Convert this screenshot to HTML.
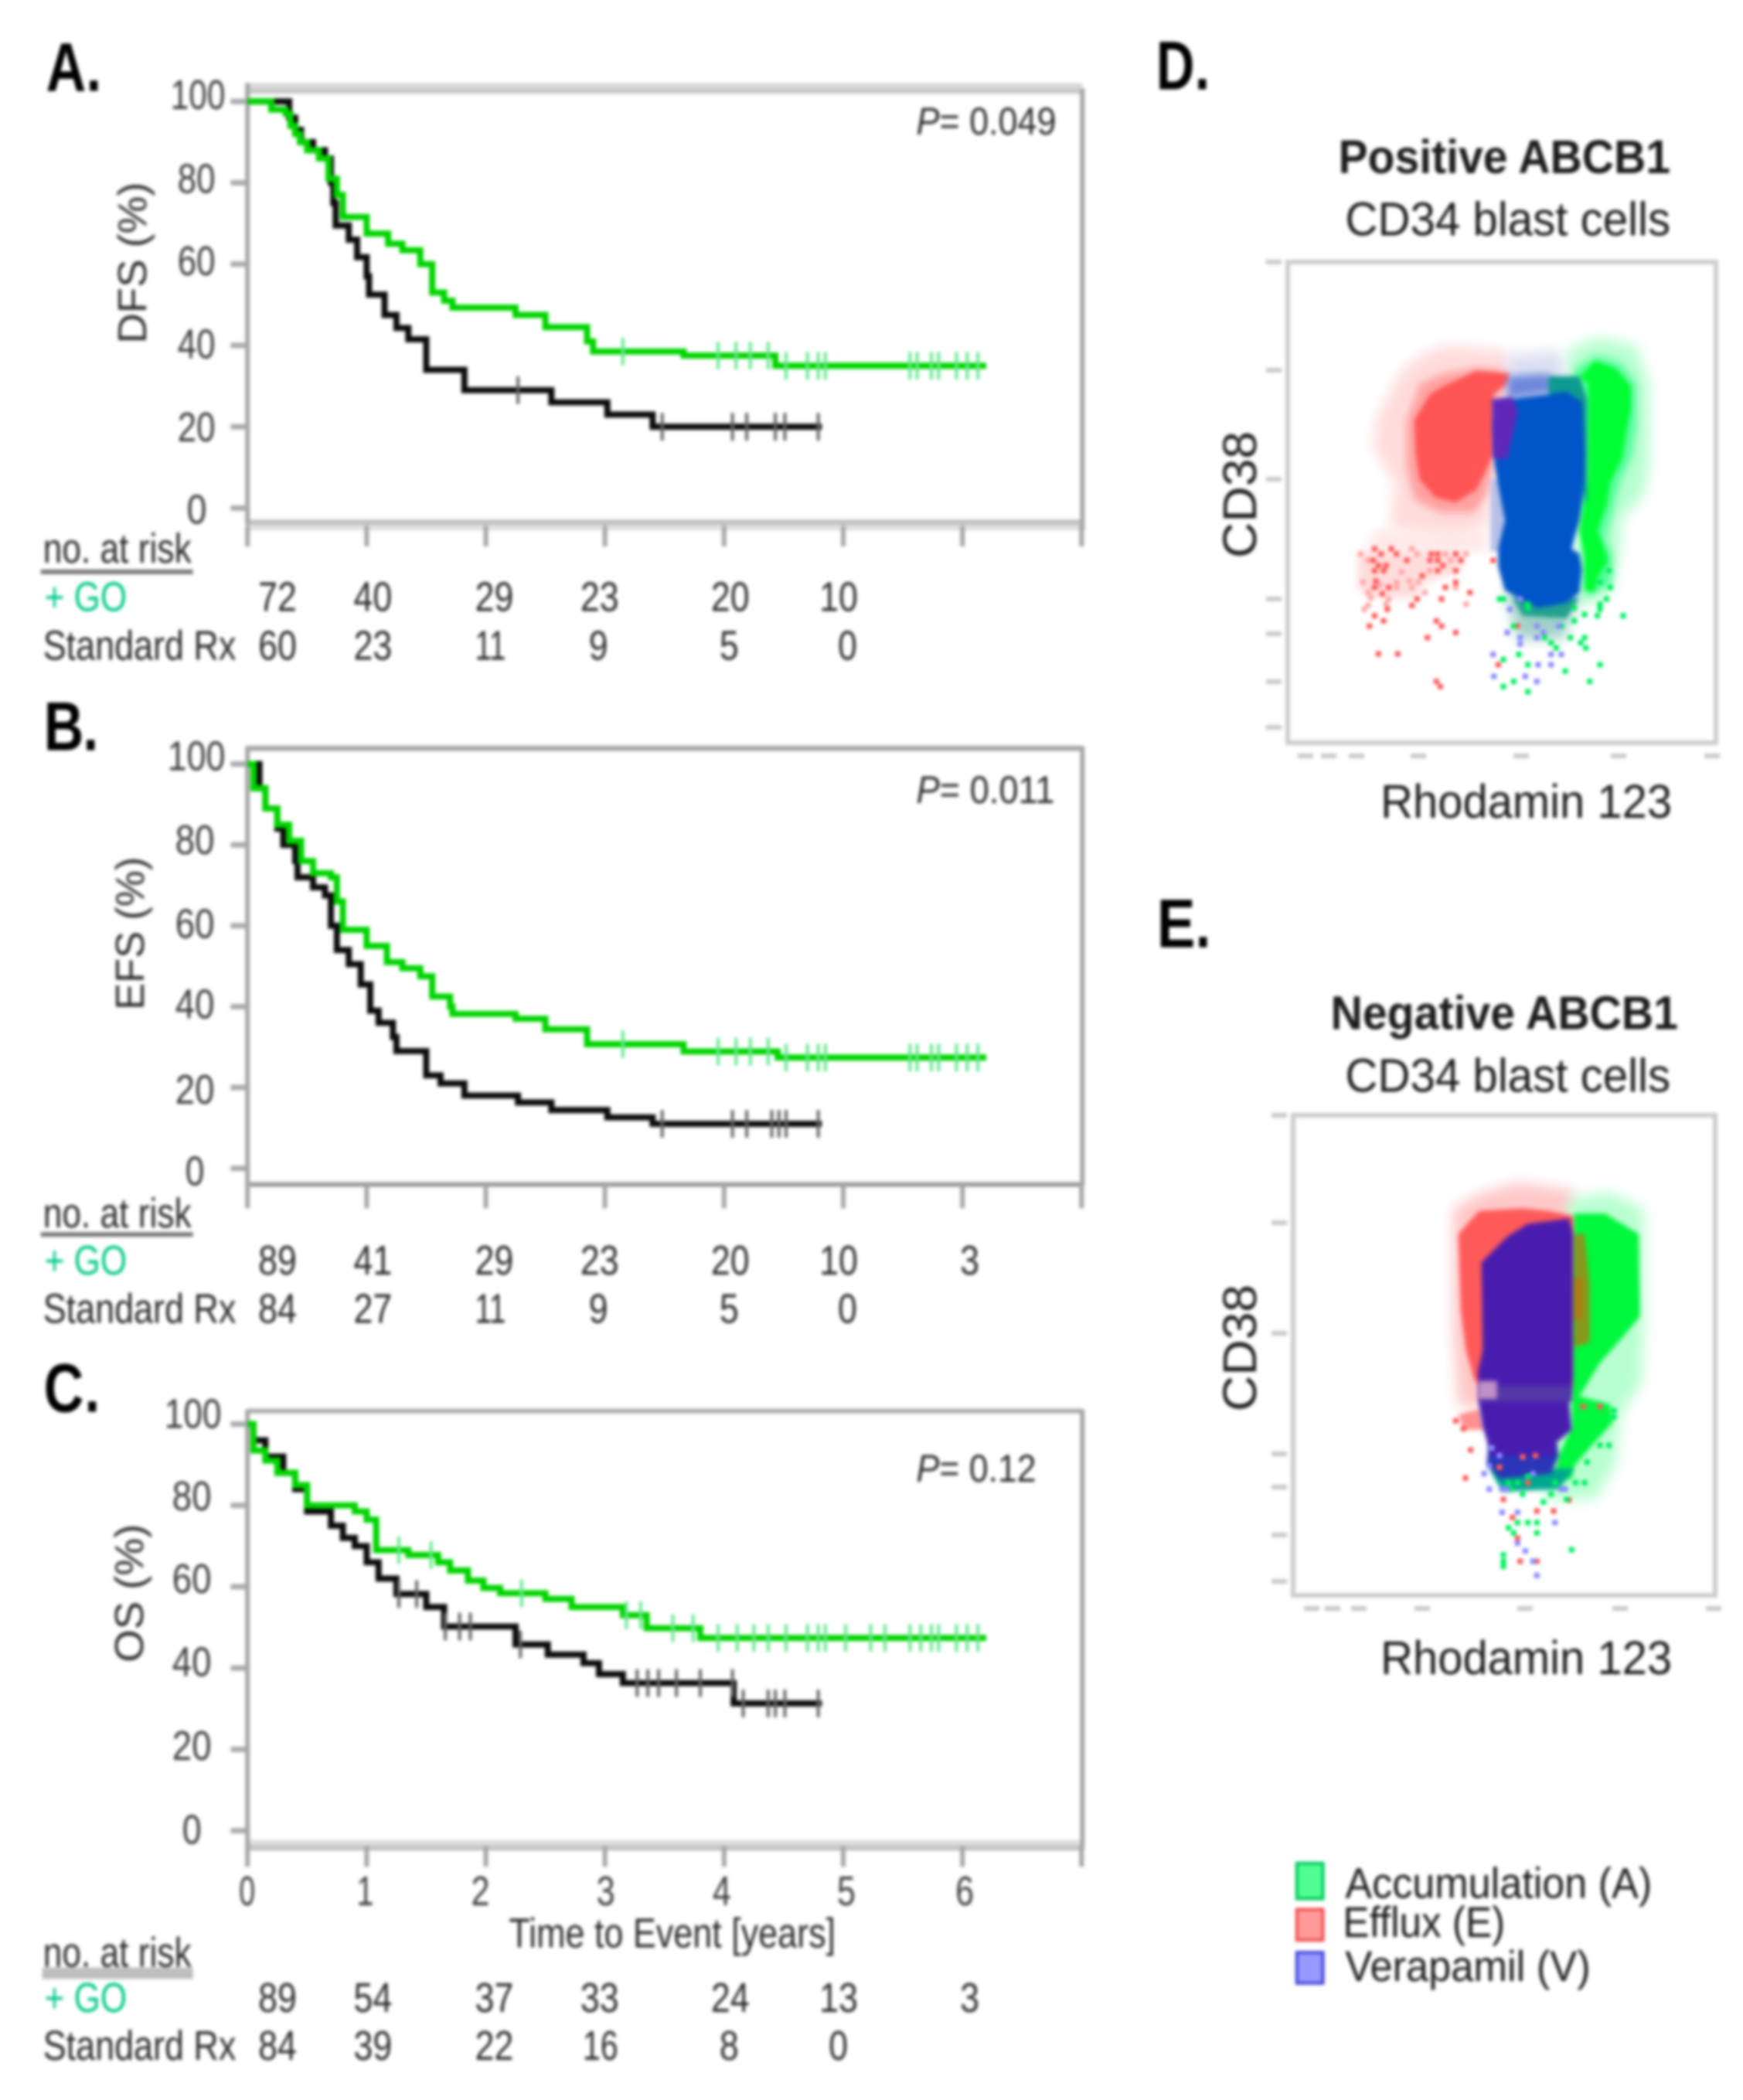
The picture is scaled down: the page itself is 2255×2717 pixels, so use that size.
<!DOCTYPE html>
<html lang="en">
<head>
<meta charset="utf-8">
<title>Kaplan-Meier survival curves and ABCB1 flow cytometry</title>
<style>
html,body{margin:0;padding:0;background:#fff;}
#figure{display:block;width:2255px;height:2717px;filter:blur(2px);}
text{font-family:"Liberation Sans",sans-serif;fill:#2c2c2c;}
.let{font-size:90px;font-weight:bold;fill:#000;}
.tick{font-size:54px;fill:#3c3c3c;}
.risk{font-size:54px;fill:#2c2c2c;}
.go{font-size:54px;fill:#00c888;}
.p{font-size:50px;fill:#2c2c2c;}
.ttl{font-size:52px;fill:#2c2c2c;}
.fc{font-size:62px;fill:#1c1c1c;}
</style>
</head>
<body>
<svg id="figure" xmlns="http://www.w3.org/2000/svg" width="2255" height="2717" viewBox="0 0 2255 2717">
<rect width="2255" height="2717" fill="#fff"/>
<defs>
<filter id="halo" x="-20%" y="-20%" width="140%" height="140%"><feGaussianBlur stdDeviation="8"/></filter>
<filter id="mid" x="-20%" y="-20%" width="140%" height="140%"><feGaussianBlur stdDeviation="5"/></filter>
<filter id="soft" x="-20%" y="-20%" width="140%" height="140%"><feGaussianBlur stdDeviation="2"/></filter>
</defs>

<g id="panelA" transform="scale(0.9945)">
<text class="let" x="60" y="118" textLength="52" lengthAdjust="spacingAndGlyphs">A</text>
<text class="let" x="112" y="118" textLength="20" lengthAdjust="spacingAndGlyphs">.</text>
<rect x="322" y="108" width="1086" height="7" fill="#d9d9d9"/>
<rect x="322" y="115" width="1086" height="7" fill="#c8c8c8"/>
<rect x="322" y="676" width="1086" height="7" fill="#c0c0c0"/>
<rect x="322" y="683" width="1086" height="7" fill="#e0e0e0"/>
<rect x="319" y="108" width="6" height="575" fill="#a6a6a6"/>
<rect x="1405" y="115" width="6" height="575" fill="#a6a6a6"/>
<text class="tick" x="222" y="142" textLength="71" lengthAdjust="spacingAndGlyphs">100</text>
<text class="tick" x="231" y="251" textLength="49" lengthAdjust="spacingAndGlyphs">80</text>
<text class="tick" x="231" y="358" textLength="49" lengthAdjust="spacingAndGlyphs">60</text>
<text class="tick" x="231" y="466" textLength="49" lengthAdjust="spacingAndGlyphs">40</text>
<text class="tick" x="231" y="574" textLength="49" lengthAdjust="spacingAndGlyphs">20</text>
<text class="tick" x="243" y="681" textLength="26" lengthAdjust="spacingAndGlyphs">0</text>
<text class="ttl" transform="translate(190,447) rotate(-90)" textLength="210" lengthAdjust="spacingAndGlyphs">DFS (%)</text>
<text class="p" x="1192" y="175" textLength="182" lengthAdjust="spacingAndGlyphs"><tspan font-style="italic">P</tspan>= 0.049</text>
<text class="risk" x="56" y="732" textLength="193" lengthAdjust="spacingAndGlyphs">no. at risk</text>
<rect x="53" y="741" width="198" height="6" fill="#777"/>
<text class="go" x="58" y="795" textLength="107" lengthAdjust="spacingAndGlyphs">+ GO</text>
<text class="risk" x="56" y="858" textLength="251" lengthAdjust="spacingAndGlyphs">Standard Rx</text>
<g>
<text class="risk" x="336" y="795" textLength="50" lengthAdjust="spacingAndGlyphs">72</text>
<text class="risk" x="460" y="795" textLength="50" lengthAdjust="spacingAndGlyphs">40</text>
<text class="risk" x="618" y="795" textLength="50" lengthAdjust="spacingAndGlyphs">29</text>
<text class="risk" x="755" y="795" textLength="50" lengthAdjust="spacingAndGlyphs">23</text>
<text class="risk" x="925" y="795" textLength="50" lengthAdjust="spacingAndGlyphs">20</text>
<text class="risk" x="1066" y="795" textLength="50" lengthAdjust="spacingAndGlyphs">10</text>
</g>
<g>
<text class="risk" x="336" y="858" textLength="50" lengthAdjust="spacingAndGlyphs">60</text>
<text class="risk" x="460" y="858" textLength="50" lengthAdjust="spacingAndGlyphs">23</text>
<text class="risk" x="618" y="858" textLength="40" lengthAdjust="spacingAndGlyphs">11</text>
<text class="risk" x="766" y="858" textLength="25" lengthAdjust="spacingAndGlyphs">9</text>
<text class="risk" x="936" y="858" textLength="25" lengthAdjust="spacingAndGlyphs">5</text>
<text class="risk" x="1090" y="858" textLength="25" lengthAdjust="spacingAndGlyphs">0</text>
</g>
</g>

<g id="panelB" transform="translate(0,4.95) scale(0.9945)">
<text class="let" x="57" y="971" textLength="52" lengthAdjust="spacingAndGlyphs">B</text>
<text class="let" x="108" y="971" textLength="20" lengthAdjust="spacingAndGlyphs">.</text>
<rect x="322" y="965" width="1086" height="7" fill="#aaa"/>
<rect x="322" y="1533" width="1086" height="6" fill="#999"/>
<rect x="319" y="966" width="6" height="572" fill="#a6a6a6"/>
<rect x="1405" y="966" width="6" height="572" fill="#a6a6a6"/>
<text class="tick" x="218" y="997" textLength="75" lengthAdjust="spacingAndGlyphs">100</text>
<text class="tick" x="228" y="1106" textLength="51" lengthAdjust="spacingAndGlyphs">80</text>
<text class="tick" x="228" y="1215" textLength="51" lengthAdjust="spacingAndGlyphs">60</text>
<text class="tick" x="228" y="1320" textLength="51" lengthAdjust="spacingAndGlyphs">40</text>
<text class="tick" x="228" y="1431" textLength="51" lengthAdjust="spacingAndGlyphs">20</text>
<text class="tick" x="241" y="1537" textLength="25" lengthAdjust="spacingAndGlyphs">0</text>
<text class="ttl" transform="translate(187,1309) rotate(-90)" textLength="199" lengthAdjust="spacingAndGlyphs">EFS (%)</text>
<text class="p" x="1192" y="1040" textLength="180" lengthAdjust="spacingAndGlyphs"><tspan font-style="italic">P</tspan>= 0.011</text>
<text class="risk" x="56" y="1592" textLength="193" lengthAdjust="spacingAndGlyphs">no. at risk</text>
<rect x="53" y="1598" width="198" height="6" fill="#777"/>
<text class="go" x="58" y="1653" textLength="107" lengthAdjust="spacingAndGlyphs">+ GO</text>
<text class="risk" x="56" y="1716" textLength="251" lengthAdjust="spacingAndGlyphs">Standard Rx</text>
<g>
<text class="risk" x="336" y="1653" textLength="50" lengthAdjust="spacingAndGlyphs">89</text>
<text class="risk" x="460" y="1653" textLength="50" lengthAdjust="spacingAndGlyphs">41</text>
<text class="risk" x="618" y="1653" textLength="50" lengthAdjust="spacingAndGlyphs">29</text>
<text class="risk" x="755" y="1653" textLength="50" lengthAdjust="spacingAndGlyphs">23</text>
<text class="risk" x="925" y="1653" textLength="50" lengthAdjust="spacingAndGlyphs">20</text>
<text class="risk" x="1066" y="1653" textLength="50" lengthAdjust="spacingAndGlyphs">10</text>
<text class="risk" x="1249" y="1653" textLength="25" lengthAdjust="spacingAndGlyphs">3</text>
</g>
<g>
<text class="risk" x="336" y="1716" textLength="50" lengthAdjust="spacingAndGlyphs">84</text>
<text class="risk" x="460" y="1716" textLength="50" lengthAdjust="spacingAndGlyphs">27</text>
<text class="risk" x="618" y="1716" textLength="40" lengthAdjust="spacingAndGlyphs">11</text>
<text class="risk" x="766" y="1716" textLength="25" lengthAdjust="spacingAndGlyphs">9</text>
<text class="risk" x="936" y="1716" textLength="25" lengthAdjust="spacingAndGlyphs">5</text>
<text class="risk" x="1090" y="1716" textLength="25" lengthAdjust="spacingAndGlyphs">0</text>
</g>
</g>

<g id="panelC" transform="translate(0,9.6) scale(0.9945)">
<text class="let" x="57" y="1827" textLength="52" lengthAdjust="spacingAndGlyphs">C</text>
<text class="let" x="110" y="1827" textLength="20" lengthAdjust="spacingAndGlyphs">.</text>
<rect x="322" y="1823" width="1086" height="6" fill="#aaa"/>
<rect x="322" y="2384" width="1086" height="7" fill="#dedede"/>
<rect x="322" y="2391" width="1086" height="7" fill="#c4c4c4"/>
<rect x="319" y="1824" width="6" height="572" fill="#a6a6a6"/>
<rect x="1405" y="1824" width="6" height="572" fill="#a6a6a6"/>
<text class="tick" x="214" y="1848" textLength="74" lengthAdjust="spacingAndGlyphs">100</text>
<text class="tick" x="224" y="1955" textLength="51" lengthAdjust="spacingAndGlyphs">80</text>
<text class="tick" x="224" y="2063" textLength="51" lengthAdjust="spacingAndGlyphs">60</text>
<text class="tick" x="224" y="2171" textLength="51" lengthAdjust="spacingAndGlyphs">40</text>
<text class="tick" x="224" y="2280" textLength="51" lengthAdjust="spacingAndGlyphs">20</text>
<text class="tick" x="237" y="2389" textLength="25" lengthAdjust="spacingAndGlyphs">0</text>
<text class="ttl" transform="translate(186,2153) rotate(-90)" textLength="180" lengthAdjust="spacingAndGlyphs">OS (%)</text>
<text class="p" x="1192" y="1918" textLength="156" lengthAdjust="spacingAndGlyphs"><tspan font-style="italic">P</tspan>= 0.12</text>
<g>
<text class="tick" x="311" y="2469" textLength="21" lengthAdjust="spacingAndGlyphs">0</text>
<text class="tick" x="464" y="2469" textLength="22" lengthAdjust="spacingAndGlyphs">1</text>
<text class="tick" x="613" y="2469" textLength="24" lengthAdjust="spacingAndGlyphs">2</text>
<text class="tick" x="776" y="2469" textLength="24" lengthAdjust="spacingAndGlyphs">3</text>
<text class="tick" x="927" y="2469" textLength="24" lengthAdjust="spacingAndGlyphs">4</text>
<text class="tick" x="1089" y="2469" textLength="24" lengthAdjust="spacingAndGlyphs">5</text>
<text class="tick" x="1243" y="2469" textLength="24" lengthAdjust="spacingAndGlyphs">6</text>
</g>
<text class="risk" x="662" y="2524" textLength="425" lengthAdjust="spacingAndGlyphs">Time to Event [years]</text>
<text class="risk" x="56" y="2549" textLength="193" lengthAdjust="spacingAndGlyphs">no. at risk</text>
<rect x="55" y="2550" width="196" height="15" fill="#bebebe"/>
<text class="go" x="58" y="2608" textLength="107" lengthAdjust="spacingAndGlyphs">+ GO</text>
<text class="risk" x="56" y="2670" textLength="251" lengthAdjust="spacingAndGlyphs">Standard Rx</text>
<g>
<text class="risk" x="336" y="2608" textLength="50" lengthAdjust="spacingAndGlyphs">89</text>
<text class="risk" x="460" y="2608" textLength="50" lengthAdjust="spacingAndGlyphs">54</text>
<text class="risk" x="618" y="2608" textLength="50" lengthAdjust="spacingAndGlyphs">37</text>
<text class="risk" x="755" y="2608" textLength="50" lengthAdjust="spacingAndGlyphs">33</text>
<text class="risk" x="925" y="2608" textLength="50" lengthAdjust="spacingAndGlyphs">24</text>
<text class="risk" x="1066" y="2608" textLength="50" lengthAdjust="spacingAndGlyphs">13</text>
<text class="risk" x="1249" y="2608" textLength="25" lengthAdjust="spacingAndGlyphs">3</text>
</g>
<g>
<text class="risk" x="336" y="2670" textLength="50" lengthAdjust="spacingAndGlyphs">84</text>
<text class="risk" x="460" y="2670" textLength="50" lengthAdjust="spacingAndGlyphs">39</text>
<text class="risk" x="618" y="2670" textLength="50" lengthAdjust="spacingAndGlyphs">22</text>
<text class="risk" x="758" y="2670" textLength="46" lengthAdjust="spacingAndGlyphs">16</text>
<text class="risk" x="936" y="2670" textLength="25" lengthAdjust="spacingAndGlyphs">8</text>
<text class="risk" x="1078" y="2670" textLength="25" lengthAdjust="spacingAndGlyphs">0</text>
</g>
</g>

<g id="plotD"></g>
<g id="plotE"></g>

<g id="panelD" transform="translate(8,0) scale(0.9945)">
<text class="let" x="1496" y="116" textLength="50" lengthAdjust="spacingAndGlyphs">D</text>
<text class="let" x="1546" y="116" textLength="20" lengthAdjust="spacingAndGlyphs">.</text>
<text class="fc" x="1733" y="225" font-weight="bold" textLength="432" lengthAdjust="spacingAndGlyphs">Positive ABCB1</text>
<text class="fc" x="1742" y="306" textLength="423" lengthAdjust="spacingAndGlyphs">CD34 blast cells</text>
<text class="fc" transform="translate(1626,726) rotate(-90)" textLength="165" lengthAdjust="spacingAndGlyphs">CD38</text>
<text class="fc" x="1788" y="1064" textLength="379" lengthAdjust="spacingAndGlyphs">Rhodamin 123</text>
</g>

<g id="panelE" transform="translate(8,6.05) scale(0.9945)">
<text class="let" x="1497" y="1226" textLength="50" lengthAdjust="spacingAndGlyphs">E</text>
<text class="let" x="1547" y="1226" textLength="20" lengthAdjust="spacingAndGlyphs">.</text>
<text class="fc" x="1723" y="1333" font-weight="bold" textLength="452" lengthAdjust="spacingAndGlyphs">Negative ABCB1</text>
<text class="fc" x="1742" y="1414" textLength="423" lengthAdjust="spacingAndGlyphs">CD34 blast cells</text>
<text class="fc" transform="translate(1626,1830) rotate(-90)" textLength="165" lengthAdjust="spacingAndGlyphs">CD38</text>
<text class="fc" x="1788" y="2172" textLength="379" lengthAdjust="spacingAndGlyphs">Rhodamin 123</text>
</g>

<g id="legend" transform="translate(8,6.05) scale(0.9945)">
<g>
<rect x="1679" y="2418" width="34" height="46" fill="#50ff90" stroke="#00c860" stroke-width="4"/>
<text class="fc" style="font-size:56px" x="1742" y="2463" textLength="399" lengthAdjust="spacingAndGlyphs">Accumulation (A)</text>
</g>
<g>
<rect x="1679" y="2478" width="34" height="40" fill="#ff9a9a" stroke="#f05050" stroke-width="4"/>
<text class="fc" style="font-size:56px" x="1739" y="2514" textLength="211" lengthAdjust="spacingAndGlyphs">Efflux (E)</text>
</g>
<g>
<rect x="1679" y="2534" width="34" height="40" fill="#9898ff" stroke="#4848d8" stroke-width="4"/>
<text class="fc" style="font-size:56px" x="1742" y="2571" textLength="319" lengthAdjust="spacingAndGlyphs">Verapamil (V)</text>
</g>
</g>
</svg>

<script>
// ---------- Kaplan-Meier data (time in years, survival in %) ----------
const xTickYears = [0, 1, 2, 3, 4, 5, 6, 7];
const yTickPercents = [0, 20, 40, 60, 80, 100];

const aGoTime = [0, .2, .32, .36, .4, .44, .5, .6, .68, .75, .8, 1.0, 1.18, 1.3, 1.45, 1.55, 1.65, 1.72, 2.25, 2.5, 2.85, 2.9, 3.66, 4.43];
const aGoSurv = [100, 98, 97, 94, 92, 90, 88, 86, 81, 77, 71.6, 67.5, 65, 63.4, 60, 53, 51, 49.3, 47.5, 44.5, 41, 38.5, 37.5, 35];
const aGoEnd = 6.2;
const aGoCensor = [3.15, 3.95, 4.1, 4.22, 4.37, 4.52, 4.7, 4.79, 4.85, 5.56, 5.62, 5.74, 5.8, 5.95, 6.04, 6.13];
const aStdTime = [0, .3, .35, .4, .45, .55, .65, .7, .72, .74, .85, .92, 1.0, 1.02, 1.15, 1.25, 1.35, 1.5, 1.82, 2.55, 3.02, 3.4];
const aStdSurv = [100, 100, 96, 93, 90, 88, 86, 80, 75, 69.5, 66, 61.7, 57, 52.5, 47.5, 44.3, 41.5, 34, 29, 26, 23, 20];
const aStdEnd = 4.82;
const aStdCensor = [2.27, 3.48, 4.07, 4.19, 4.43, 4.51, 4.79];

const bGoTime = [0, .05, .15, .25, .35, .45, .55, .7, .75, .8, 1.0, 1.17, 1.3, 1.45, 1.55, 1.7, 1.72, 2.25, 2.5, 2.85, 3.66, 4.45];
const bGoSurv = [100, 94, 89, 85, 81, 76, 73, 72, 66, 59, 55, 51, 49.5, 47.5, 42.5, 40, 38.2, 37, 34.4, 30.7, 28.9, 27.4];
const bGoEnd = 6.2;
const bGoCensor = [3.15, 3.95, 4.1, 4.22, 4.37, 4.52, 4.7, 4.79, 4.85, 5.56, 5.62, 5.74, 5.8, 5.95, 6.04, 6.13];
const bStdTime = [0, .1, .15, .25, .3, .4, .42, .55, .65, .7, .75, .85, .95, 1.03, 1.1, 1.22, 1.25, 1.5, 1.62, 1.82, 2.27, 2.55, 3.02, 3.4];
const bStdSurv = [100, 94, 89, 84, 80, 76, 72, 69.5, 67.5, 60, 54, 50.5, 45.5, 39, 36, 32.5, 29, 23, 21, 18, 16.3, 14.4, 12.6, 11];
const bStdEnd = 4.82;
const bStdCensor = [3.48, 4.07, 4.19, 4.4, 4.46, 4.52, 4.79];

const cGoTime = [0, .05, .15, .25, .4, .5, .9, 1.0, 1.08, 1.35, 1.6, 1.7, 1.85, 1.98, 2.12, 2.5, 2.72, 3.15, 3.35, 3.8];
const cGoSurv = [100, 93.5, 91, 88, 85, 80, 78.5, 76.5, 69, 67.8, 66, 64, 61.5, 59.7, 58.4, 57, 55, 53, 49.8, 47.4];
const cGoEnd = 6.2;
const cGoCensor = [1.27, 1.54, 2.3, 3.18, 3.3, 3.57, 3.74, 3.95, 4.11, 4.25, 4.37, 4.52, 4.7, 4.79, 4.85, 5.02, 5.23, 5.35, 5.56, 5.65, 5.74, 5.8, 5.95, 6.04, 6.13];
const cStdTime = [0, .05, .15, .3, .4, .5, .7, .8, .9, 1.0, 1.1, 1.25, 1.5, 1.65, 2.25, 2.52, 2.82, 2.95, 3.15, 4.08];
const cStdSurv = [100, 96, 92, 88, 84, 78.5, 75, 72, 70, 66, 62, 58.2, 55, 50.2, 45.8, 43.3, 41.2, 38.5, 36.3, 31.3];
const cStdEnd = 4.82;
const cStdCensor = [1.27, 1.42, 1.66, 1.78, 1.87, 2.29, 3.27, 3.36, 3.45, 3.6, 3.8, 4.07, 4.16, 4.37, 4.43, 4.51, 4.79];

// ---------- Flow cytometry data (instrument channels) ----------
const dEffluxHaloX = [90, 180, 260, 360, 600, 620, 540, 530, 400, 140, 165, 80];
const dEffluxHaloY = [370, 190, 120, 80, 100, 200, 600, 780, 830, 790, 620, 480];
const dEffluxInnerX = [210, 260, 350, 490, 610, 600, 550, 545, 520, 470, 340, 240, 210];
const dEffluxInnerY = [370, 230, 190, 165, 180, 240, 300, 560, 660, 730, 730, 680, 560];
const dEffluxFaintX = [80, 530, 520, 60];
const dEffluxFaintY = [800, 800, 880, 880];
const dEffluxLowX = [20, 440, 420, 280, 250, 60, 20];
const dEffluxLowY = [880, 880, 960, 1000, 1060, 1060, 1020];
const dEffluxCoreX = [240, 300, 350, 480, 610, 600, 545, 545, 520, 480, 400, 320, 260, 245];
const dEffluxCoreY = [370, 270, 240, 180, 190, 230, 270, 500, 560, 640, 690, 670, 600, 500];
const dAccumHaloX = [830, 950, 1100, 1150, 1150, 1130, 1040, 1040, 1000, 880];
const dAccumHaloY = [100, 50, 80, 230, 550, 660, 760, 860, 1040, 1100];
const dAccumMidX = [860, 950, 1040, 1100, 1100, 1080, 1040, 1010, 980, 1010, 1005, 900];
const dAccumMidY = [170, 120, 150, 230, 400, 520, 600, 720, 830, 900, 1010, 1060];
const dAccumCoreX = [880, 940, 1020, 1080, 1080, 1060, 1045, 1000, 985, 950, 985, 990, 950, 940, 900, 900, 880, 915, 915];
const dAccumCoreY = [205, 140, 170, 240, 330, 420, 520, 610, 700, 800, 890, 920, 980, 1040, 1030, 900, 800, 600, 230];
const dVeraTopX = [600, 800, 830, 830, 600];
const dVeraTopY = [120, 100, 200, 250, 280];
const dVeraMidTopX = [600, 760, 800, 600];
const dVeraMidTopY = [200, 190, 260, 290];
const dVeraSideX = [535, 590, 590, 535];
const dVeraSideY = [600, 600, 880, 880];
const dMixBottomX = [590, 880, 820, 640];
const dMixBottomY = [1030, 1040, 1220, 1220];
const dMixTealX = [620, 880, 830, 660];
const dMixTealY = [1060, 1060, 1140, 1130];
const dTealTopX = [760, 880, 910, 910, 760];
const dTealTopY = [200, 200, 290, 700, 260];
const dVeraCoreX = [545, 575, 640, 760, 830, 890, 900, 895, 880, 860, 850, 880, 890, 880, 830, 720, 640, 590, 565, 565, 590, 570, 550];
const dVeraCoreY = [380, 300, 285, 270, 260, 300, 500, 660, 760, 830, 870, 890, 950, 1040, 1080, 1100, 1060, 1030, 940, 870, 760, 650, 540];
const dVeraPurpleX = [540, 620, 640, 600, 545];
const dVeraPurpleY = [290, 280, 340, 520, 520];
const dEffluxPoints = [85,870,110,890,150,870,170,890,305,890,330,890,400,890,420,915,80,915,100,935,130,935,210,915,300,915,330,915,350,935,85,955,120,955,270,975,330,955,400,955,90,995,85,1020,140,1020,360,1020,400,1000,250,1065,455,1040,115,1045,345,1065,230,1090,135,1105,85,1130,65,1170,120,1150,325,1150,345,1170,400,1195,290,1215,100,1278,175,1278,565,1320,340,1405,325,1385,640,1170,545,915];
const dEffluxFaintPoints = [30,890,60,915,40,1000,60,1040,70,1060,140,1065,130,1085,60,1090,45,1105,230,870,250,890,190,960,220,995,255,1000,280,1040,400,1020,360,890,440,890,380,915,300,955,170,1000,105,1010,170,1020,230,1020,440,1085];
const dAccumPoints = [570,1065,680,1085,960,1085,985,1065,960,1105,1050,1130,950,1130,585,1300,625,1170,900,1215,885,1235,845,1215,905,1255,645,1280,960,1320,680,1320,825,1345,920,1385,625,1385,585,1405,680,1425,810,1170,790,1255,745,1215,1000,1020,960,1000,995,955,770,1235,860,1150,900,1125,860,1100,680,1100,585,1065];
const dVeraPoints = [548,1365,545,1280,770,1320,715,1385,670,1365,800,1170,715,1170,740,1195,650,1065,610,1105,810,1280,770,1280,720,1320,600,1195,650,1215,650,1240,715,1215];

const eEffluxHaloX = [150, 260, 400, 620, 620, 610, 260, 170, 150];
const eEffluxHaloY = [100, 40, 0, 30, 130, 800, 870, 870, 600];
const eEffluxCoreX = [170, 250, 420, 520, 620, 620, 280, 230, 200, 180];
const eEffluxCoreY = [200, 110, 100, 110, 130, 800, 830, 760, 650, 500];
const eEffluxLowX = [170, 250, 270, 190];
const eEffluxLowY = [900, 880, 960, 960];
const eAccumHaloX = [600, 760, 890, 890, 880, 800, 780, 700, 500];
const eAccumHaloY = [60, 40, 100, 560, 780, 900, 1100, 1230, 1230];
const eAccumCoreX = [620, 740, 870, 875, 800, 720, 640, 760, 770, 680, 620, 610, 540, 560, 610];
const eAccumCoreY = [120, 120, 200, 520, 610, 700, 830, 860, 930, 1030, 1100, 1150, 1160, 1060, 950];
const eOliveX = [620, 660, 680, 680, 620];
const eOliveY = [200, 200, 400, 620, 640];
const eOrangeX = [620, 650, 650, 620];
const eOrangeY = [370, 370, 530, 530];
const eVeraCoreX = [260, 360, 440, 600, 615, 615, 600, 610, 550, 540, 300, 265, 250, 250, 245, 265];
const eVeraCoreY = [310, 210, 160, 140, 200, 760, 860, 960, 1010, 1060, 1060, 950, 860, 790, 740, 650];
const eGapBandX = [250, 610, 610, 250];
const eGapBandY = [790, 790, 850, 850];
const eLavenderX = [250, 320, 320, 245];
const eLavenderY = [770, 770, 840, 840];
const eVeraLowX = [290, 550, 560, 530, 330, 280];
const eVeraLowY = [1000, 1010, 1060, 1130, 1150, 1090];
const eMixBottomX = [290, 620, 560, 340];
const eMixBottomY = [1110, 1110, 1190, 1200];
const eEffluxPoints = [198,1147,218,1038,190,955,160,925,470,1060,330,1105,600,1232,540,1275,475,1275,410,1470,475,1470,655,870,720,870,345,1230,380,1300,400,1380,440,1165,420,1065];
const eAccumPoints = [610,1425,345,1445,345,1470,345,1490,365,1340,385,1360,475,1360,400,1320,440,1320,365,1165,400,1165,440,1140,475,1320,545,1165,590,1230,625,1165,660,1165,670,1085,755,1020,775,885,775,910,720,1020,500,1240,375,1190,420,1210,530,1210];
const eVeraPoints = [475,1525,460,1470,430,1430,400,1400,290,1190,290,1100,270,1130,340,1280,340,1190,400,1280,545,1320,570,1190,585,1190,360,1190,460,1130,300,1030,330,1060];

const dAxisTicksY = [-243, 177, 600, 1065, 1200, 1386, 1563];
const dAxisTicksX = [-183, -93, 15, 255, 654, 1032, 1395];
const eAxisTicksY = [-261, 156, 585, 1053, 1182, 1368, 1548];
const eAxisTicksX = [-399, -318, -216, 30, 429, 798, 1161];

// ---------- helpers ----------
const NS = 'http://www.w3.org/2000/svg';
function mk(parent, tag, attrs) {
  const el = document.createElementNS(NS, tag);
  for (const k in attrs) el.setAttribute(k, attrs[k]);
  parent.appendChild(el);
  return el;
}
function survivalAt(times, surv, t) {
  let v = surv[0];
  for (let i = 0; i < times.length; i++) if (times[i] <= t) v = surv[i];
  return v;
}
function stepPath(times, surv, end, sx, sy) {
  let d = 'M' + sx(times[0]) + ' ' + sy(surv[0]);
  for (let i = 1; i < times.length; i++) {
    d += 'H' + sx(times[i]) + 'V' + sy(surv[i]);
  }
  return d + 'H' + sx(end);
}

function drawAxes(root, sx, sy, frameBottom, tickEnd) {
  yTickPercents.forEach(function (p) {
    const ln = mk(root, 'line', { x1: 300, x2: 320, y1: sy(p), y2: sy(p), stroke: '#aaa', 'stroke-width': 7 });
    
    
  });
  xTickYears.forEach(function (yr) {
    const ln = mk(root, 'line', { x1: sx(yr), x2: sx(yr), y1: frameBottom, y2: tickEnd, stroke: '#a6a6a6', 'stroke-width': 6 });
    
    
  });
}

function drawArm(root, times, surv, end, censor, sx, sy, color, censorColor, armName) {
  const p = mk(root, 'path', { d: stepPath(times, surv, end, sx, sy), fill: 'none', stroke: color, 'stroke-width': 8, 'stroke-linejoin': 'miter' });
  
  
  censor.forEach(function (t) {
    const v = survivalAt(times, surv, t);
    const c = mk(root, 'line', { x1: sx(t), x2: sx(t), y1: sy(v) - 18, y2: sy(v) + 18, stroke: censorColor, 'stroke-width': 4 });
    
    
  });
}

function drawKM(panelId, y100, y0, frameBottom, tickEnd, series) {
  const root = document.getElementById(panelId);
  const sx = function (t) { return 322 + 155 * t; };
  const sy = function (v) { return y0 + (y100 - y0) * v / 100; };
  drawAxes(root, sx, sy, frameBottom, tickEnd);
  drawArm(root, series.stdT, series.stdS, series.stdE, series.stdC, sx, sy, '#0c0c0c', '#666', 'standard-rx');
  drawArm(root, series.goT, series.goS, series.goE, series.goC, sx, sy, '#00d400', '#66e890', 'go');
}

drawKM('panelA', 132, 661, 684, 711, { goT: aGoTime, goS: aGoSurv, goE: aGoEnd, goC: aGoCensor, stdT: aStdTime, stdS: aStdSurv, stdE: aStdEnd, stdC: aStdCensor });
drawKM('panelB', 989, 1515, 1536, 1567, { goT: bGoTime, goS: bGoSurv, goE: bGoEnd, goC: bGoCensor, stdT: bStdTime, stdS: bStdSurv, stdE: bStdEnd, stdC: bStdCensor });
drawKM('panelC', 1843, 2372, 2392, 2419, { goT: cGoTime, goS: cGoSurv, goE: cGoEnd, goC: cGoCensor, stdT: cStdTime, stdS: cStdSurv, stdE: cStdEnd, stdC: cStdCensor });

// ---------- flow plots ----------
const dFlowX = function (c) { return 1750 + c / 3; };
const dFlowY = function (c) { return 420 + c / 3; };
const eFlowX = function (c) { return 1830 + c / 3; };
const eFlowY = function (c) { return 1530 + c / 3; };

function polygon(root, xs, ys, fx, fy, fill, filter, name) {
  const pts = xs.map(function (x, i) { return fx(x) + ',' + fy(ys[i]); }).join(' ');
  const attrs = { points: pts, fill: fill };
  if (filter) attrs.filter = 'url(#' + filter + ')';
  const el = mk(root, 'polygon', attrs);
  
  
}
function dots(root, flat, fx, fy, fill, name) {
  for (let i = 0; i < flat.length; i += 2) {
    const el = mk(root, 'rect', { x: fx(flat[i]) - 3.5, y: fy(flat[i + 1]) - 3.5, width: 7, height: 7, fill: fill });
    
    
  }
}
function flowFrame(root, fx, fy, l, r, t, b, ticksX, ticksY) {
  const f = mk(root, 'rect', { x: fx(l), y: fy(t), width: fx(r) - fx(l), height: fy(b) - fy(t), fill: 'none', stroke: '#ccc', 'stroke-width': 6 });
  
  
  ticksY.forEach(function (c) {
    const el = mk(root, 'rect', { x: fx(l) - 28, y: fy(c) - 3, width: 20, height: 6, fill: '#c8c8c8' });
    
    
  });
  ticksX.forEach(function (c) {
    const el = mk(root, 'rect', { x: fx(c) - 10, y: fy(b) + 14, width: 20, height: 6, fill: '#c8c8c8' });
    
    
  });
}

const plotD = document.getElementById('plotD');
polygon(plotD, dEffluxHaloX, dEffluxHaloY, dFlowX, dFlowY, '#ffdcdc', 'halo', 'efflux-halo');
polygon(plotD, dEffluxFaintX, dEffluxFaintY, dFlowX, dFlowY, '#ffe6e6', 'halo', 'efflux-faint-band');
polygon(plotD, dEffluxLowX, dEffluxLowY, dFlowX, dFlowY, '#ffdcdc', 'mid', 'efflux-low-cluster');
polygon(plotD, dEffluxInnerX, dEffluxInnerY, dFlowX, dFlowY, '#ffa0a0', 'mid', 'efflux-inner-halo');
polygon(plotD, dAccumHaloX, dAccumHaloY, dFlowX, dFlowY, '#b8ffd0', 'halo', 'accumulation-halo');
polygon(plotD, dVeraTopX, dVeraTopY, dFlowX, dFlowY, '#dcdff2', 'halo', 'verapamil-top-halo');
polygon(plotD, dVeraSideX, dVeraSideY, dFlowX, dFlowY, '#b8c0e8', 'soft', 'verapamil-side-halo');
polygon(plotD, dMixBottomX, dMixBottomY, dFlowX, dFlowY, '#a0d0c8', 'halo', 'verapamil-bottom-halo');
polygon(plotD, dEffluxCoreX, dEffluxCoreY, dFlowX, dFlowY, '#ff5555', 'soft', 'efflux-core');
polygon(plotD, dAccumMidX, dAccumMidY, dFlowX, dFlowY, '#50ff98', 'mid', 'accumulation-mid-halo');
polygon(plotD, dAccumCoreX, dAccumCoreY, dFlowX, dFlowY, '#00ff33', 'soft', 'accumulation-core');
polygon(plotD, dVeraMidTopX, dVeraMidTopY, dFlowX, dFlowY, '#7088dc', 'mid', 'verapamil-mid-top');
polygon(plotD, dTealTopX, dTealTopY, dFlowX, dFlowY, '#109a90', 'soft', 'verapamil-accumulation-overlap');
polygon(plotD, dMixTealX, dMixTealY, dFlowX, dFlowY, '#20a090', 'soft', 'verapamil-accumulation-mix');
polygon(plotD, dVeraCoreX, dVeraCoreY, dFlowX, dFlowY, '#0055c8', 'soft', 'verapamil-core');
polygon(plotD, dVeraPurpleX, dVeraPurpleY, dFlowX, dFlowY, '#6028b8', 'soft', 'verapamil-efflux-overlap');
dots(plotD, dEffluxFaintPoints, dFlowX, dFlowY, '#ffa8a8', 'efflux-faint-event');
dots(plotD, dEffluxPoints, dFlowX, dFlowY, '#ff5c5c', 'efflux-event');
dots(plotD, dAccumPoints, dFlowX, dFlowY, '#00f060', 'accumulation-event');
dots(plotD, dVeraPoints, dFlowX, dFlowY, '#8a8aff', 'verapamil-event');
flowFrame(plotD, dFlowX, dFlowY, -252, 1410, -243, 1623, dAxisTicksX, dAxisTicksY);

const plotE = document.getElementById('plotE');
polygon(plotE, eEffluxHaloX, eEffluxHaloY, eFlowX, eFlowY, '#ffc8c8', 'halo', 'efflux-halo');
polygon(plotE, eAccumHaloX, eAccumHaloY, eFlowX, eFlowY, '#b8ffd0', 'halo', 'accumulation-halo');
polygon(plotE, eEffluxCoreX, eEffluxCoreY, eFlowX, eFlowY, '#ff5a5a', 'soft', 'efflux-core');
polygon(plotE, eEffluxLowX, eEffluxLowY, eFlowX, eFlowY, '#ff9090', 'soft', 'efflux-low-band');
polygon(plotE, eAccumCoreX, eAccumCoreY, eFlowX, eFlowY, '#00f83c', 'soft', 'accumulation-core');
polygon(plotE, eOliveX, eOliveY, eFlowX, eFlowY, '#88981c', 'soft', 'accumulation-overlap-band');
polygon(plotE, eOrangeX, eOrangeY, eFlowX, eFlowY, '#b07a10', 'soft', 'accumulation-overlap-center');
polygon(plotE, eMixBottomX, eMixBottomY, eFlowX, eFlowY, '#00a890', 'soft', 'verapamil-accumulation-mix');
polygon(plotE, eVeraLowX, eVeraLowY, eFlowX, eFlowY, '#2c34b8', 'soft', 'verapamil-lower-band');
polygon(plotE, eVeraCoreX, eVeraCoreY, eFlowX, eFlowY, '#4a1ab0', 'soft', 'verapamil-core');
polygon(plotE, eGapBandX, eGapBandY, eFlowX, eFlowY, '#5238a8', 'soft', 'verapamil-gap-band');
polygon(plotE, eLavenderX, eLavenderY, eFlowX, eFlowY, '#c090c8', 'soft', 'verapamil-gap-edge');
dots(plotE, eEffluxPoints, eFlowX, eFlowY, '#ff5a5a', 'efflux-event');
dots(plotE, eAccumPoints, eFlowX, eFlowY, '#00f060', 'accumulation-event');
dots(plotE, eVeraPoints, eFlowX, eFlowY, '#8a8aff', 'verapamil-event');
flowFrame(plotE, eFlowX, eFlowY, -471, 1167, -261, 1602, eAxisTicksX, eAxisTicksY);
</script>
</body>
</html>
